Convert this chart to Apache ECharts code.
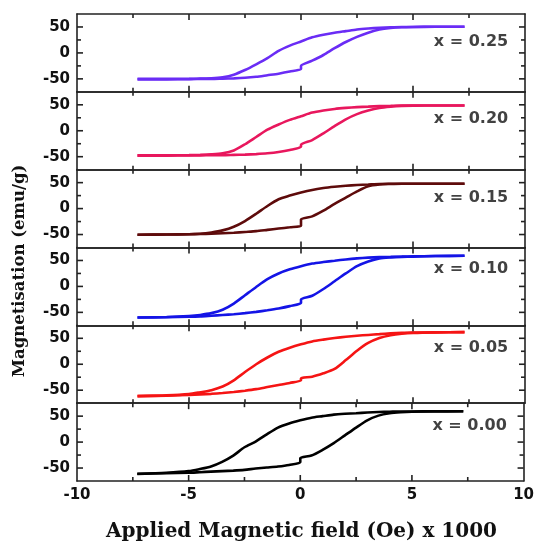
<!DOCTYPE html>
<html><head><meta charset="utf-8">
<script src="https://cdn.jsdelivr.net/npm/echarts@6/dist/echarts.min.js"></script>
<style>html,body{margin:0;padding:0;background:#fff}#c{width:537px;height:543px}</style>
</head><body><div id="c"></div>
<script>
// Field values (Oe x 1000)
const fieldUpper = [-7.3,-6,-5,-4.5,-4,-3.5,-3,-2.5,-2,-1.5,-1,-0.5,0,0.5,1,1.5,2,2.5,3,3.5,4,4.5,5,6,7.3];
const fieldLower = [-7.3,-6,-5,-4.5,-4,-3.5,-3,-2.5,-2,-1.5,-1,-0.5,0,0,0.5,1,1.5,2,2.5,3,3.5,4,4.5,5,6,7.3];
// Compositions (top to bottom)
const compositions = ['x = 0.25','x = 0.20','x = 0.15','x = 0.10','x = 0.05','x = 0.00'];
// Magnetisation (emu/g): descending-field branch
const up025 = [-50,-50,-50,-49.5,-49,-47,-42,-33,-22,-10,4,14,22,30,35,39,42,45,47,48.5,49.5,50,50,50.5,50.5];
const up020 = [-47.5,-47.5,-47,-46.5,-45.5,-43.5,-38,-26,-12,2,12,21,28,35,39,42,44,45.5,46.5,47.5,48,48.5,48.5,48.7,48.7];
const up015 = [-50.5,-50,-49.5,-48.5,-46,-42,-35,-24,-10,5,18,25,31,36,39.5,42,44,45.5,46.5,47.5,47.8,48,48,48,48];
const up010 = [-60,-59,-57,-55,-51.5,-45,-33,-17,-1,14,25,33,39,44,47,49.5,52,54,55.5,56.5,57,57.5,58,58.5,59];
const up005 = [-61.5,-60,-57.5,-54,-50,-43,-31,-15,0,13,24,32,38.5,44,47.5,50.5,53,55,56.5,58,59.5,60.5,61,61.5,62];
const up000 = [-61,-59,-56,-52,-47,-38,-26,-10,1,15,28,36,42,47,50,53,54.5,55.5,57,58,58.5,59,59,59.3,59.3];
// ascending-field branch
const low025 = [-51,-51,-50.5,-50,-50,-49.5,-49,-48,-46,-43,-40,-36,-31,-25,-15,-4,9,21,31,39,45,48,49.5,50,50.5,50.5];
const low020 = [-48,-48,-47.5,-47.5,-47,-47,-46.5,-46,-45,-43.5,-41,-37,-31,-27,-18,-5,9,22,32,39,44,46.5,48,48.5,48.7,48.7];
const low015 = [-50.5,-50,-49.5,-49,-48.5,-47.5,-46.5,-45,-43.5,-41,-38.5,-36,-33,-21,-15,-4,9,21,33,43,46.5,47.5,48,48,48,48];
const low010 = [-60,-59.5,-58.5,-58,-56.5,-55,-53.5,-51.5,-49,-46,-42.5,-38,-32,-25,-18,-5,10,25,39,48,54,56,57,57.5,58.5,59];
const low005 = [-61.5,-60.5,-59,-58,-57,-55.5,-53.5,-51,-48,-44,-40,-36,-31,-27,-24,-17.5,-9,8,26,41,50.5,56,59,60.5,61.5,62];
const low000 = [-61.5,-60,-59,-58,-57,-56,-55,-53.5,-51,-49,-47,-44,-39,-31,-26,-15,-2,13,28,42,51,55.5,57.5,58.5,59,59.3];
// Label anchor positions (data coords)
const labelField = 9.25;
const labelM = [22, 22, 20, 34, 31, 31];
// Tick values
const yTicks = [-50, 0, 50];
const xMajorTicks = [-5, 0, 5];
const xMinorTicks = [-7.5, -2.5, 2.5, 7.5];
const yMinorTicks = [-25, 25];

const ups = [up025, up020, up015, up010, up005, up000];
const lows = [low025, low020, low015, low010, low005, low000];
const colors = ['#6a2cf5', '#e8175d', '#5e0b0b', '#1414e6', '#f51414', '#000000'];

const X_MIN = -10, X_MAX = 10, Y_MIN = -75, Y_MAX = 75;
const top0 = 14, bottom0 = 481, leftPx = 77, rightPx = 12;
const ph = (bottom0 - top0) / 6;
const MAJ = 6, MIN = 4;
const tickData = [].concat(
  xMajorTicks.map(v => [0, v, MAJ]), xMinorTicks.map(v => [0, v, MIN]),
  yTicks.map(v => [1, v, MAJ]), yMinorTicks.map(v => [1, v, MIN]));
const tickStyle = {stroke: '#222', lineWidth: 1.6};
function renderTick(params, api) {
  const kind = api.value(0), v = api.value(1), L = api.value(2);
  let a, b;
  if (kind === 0) {
    a = api.coord([v, Y_MIN]); b = api.coord([v, Y_MAX]);
    return {type: 'group', children: [
      {type: 'line', shape: {x1: a[0], y1: a[1], x2: a[0], y2: a[1] - L}, style: tickStyle},
      {type: 'line', shape: {x1: b[0], y1: b[1], x2: b[0], y2: b[1] + L}, style: tickStyle}]};
  }
  a = api.coord([X_MIN, v]); b = api.coord([X_MAX, v]);
  return {type: 'group', children: [
    {type: 'line', shape: {x1: a[0], y1: a[1], x2: a[0] + L, y2: a[1]}, style: tickStyle},
    {type: 'line', shape: {x1: b[0], y1: b[1], x2: b[0] - L, y2: b[1]}, style: tickStyle}]};
}

const grid = [], xAxis = [], yAxis = [], series = [];
const labelFont = {fontFamily: 'DejaVu Sans', fontWeight: 'bold', fontSize: 15, color: '#111'};
const lineOn = {show: true, onZero: false, lineStyle: {color: '#222', width: 1.6}};
for (let i = 0; i < 6; i++) {
  grid.push({left: leftPx, right: rightPx, top: top0 + i * ph, height: ph, show: false});
  const last = i === 5;
  const xb = {gridIndex: i, type: 'value', min: X_MIN, max: X_MAX, interval: 5, splitLine: {show: false},
    axisTick: {show: false}, axisLine: lineOn};
  xAxis.push(Object.assign({}, xb, {position: 'bottom',
    axisLabel: Object.assign({show: last, margin: 7}, labelFont)}));
  xAxis.push(Object.assign({}, xb, {position: 'top', axisLabel: {show: false}}));
  const yb = {gridIndex: i, type: 'value', min: Y_MIN, max: Y_MAX, interval: 25, splitLine: {show: false},
    axisTick: {show: false}, axisLine: lineOn};
  yAxis.push(Object.assign({}, yb, {position: 'left',
    axisLabel: Object.assign({show: true, margin: 7,
      formatter: v => (yTicks.indexOf(v) >= 0 ? String(v) : '')}, labelFont)}));
  yAxis.push(Object.assign({}, yb, {position: 'right', axisLabel: {show: false}}));

  const lineBase = {type: 'line', xAxisIndex: i * 2, yAxisIndex: i * 2, showSymbol: false,
    smooth: 0.25, silent: true, lineStyle: {color: colors[i], width: 2.6}, z: 3};
  series.push(Object.assign({}, lineBase, {data: fieldUpper.map((h, k) => [h, ups[i][k]])}));
  series.push(Object.assign({}, lineBase, {data: fieldLower.map((h, k) => [h, lows[i][k]])}));
  series.push({type: 'custom', xAxisIndex: i * 2, yAxisIndex: i * 2, silent: true, z: 4,
    renderItem: renderTick, data: tickData});
  series.push({type: 'scatter', xAxisIndex: i * 2, yAxisIndex: i * 2, symbolSize: 0, silent: true,
    data: [[labelField, labelM[i]]],
    label: {show: true, position: 'left', distance: 0, formatter: compositions[i],
      fontFamily: 'DejaVu Sans', fontWeight: 'bold', fontSize: 16, color: '#111'}});
}

const chart = echarts.init(document.getElementById('c'), null, {renderer: 'canvas'});
chart.setOption({
  animation: false,
  backgroundColor: '#fff',
  grid, xAxis, yAxis, series,
  graphic: [
    {type: 'text', x: 301.5, y: 532,
      style: {text: 'Applied Magnetic field (Oe) x 1000', fontFamily: 'DejaVu Serif',
        fontWeight: 'bold', fontSize: 20, fill: '#111', align: 'center', verticalAlign: 'middle'}},
    {type: 'text', x: 20, y: 271, rotation: Math.PI / 2,
      style: {text: 'Magnetisation (emu/g)', fontFamily: 'DejaVu Serif', fontWeight: 'bold',
        fontSize: 16.5, fill: '#111', align: 'center', verticalAlign: 'middle'}}
  ]
});
</script></body></html>
